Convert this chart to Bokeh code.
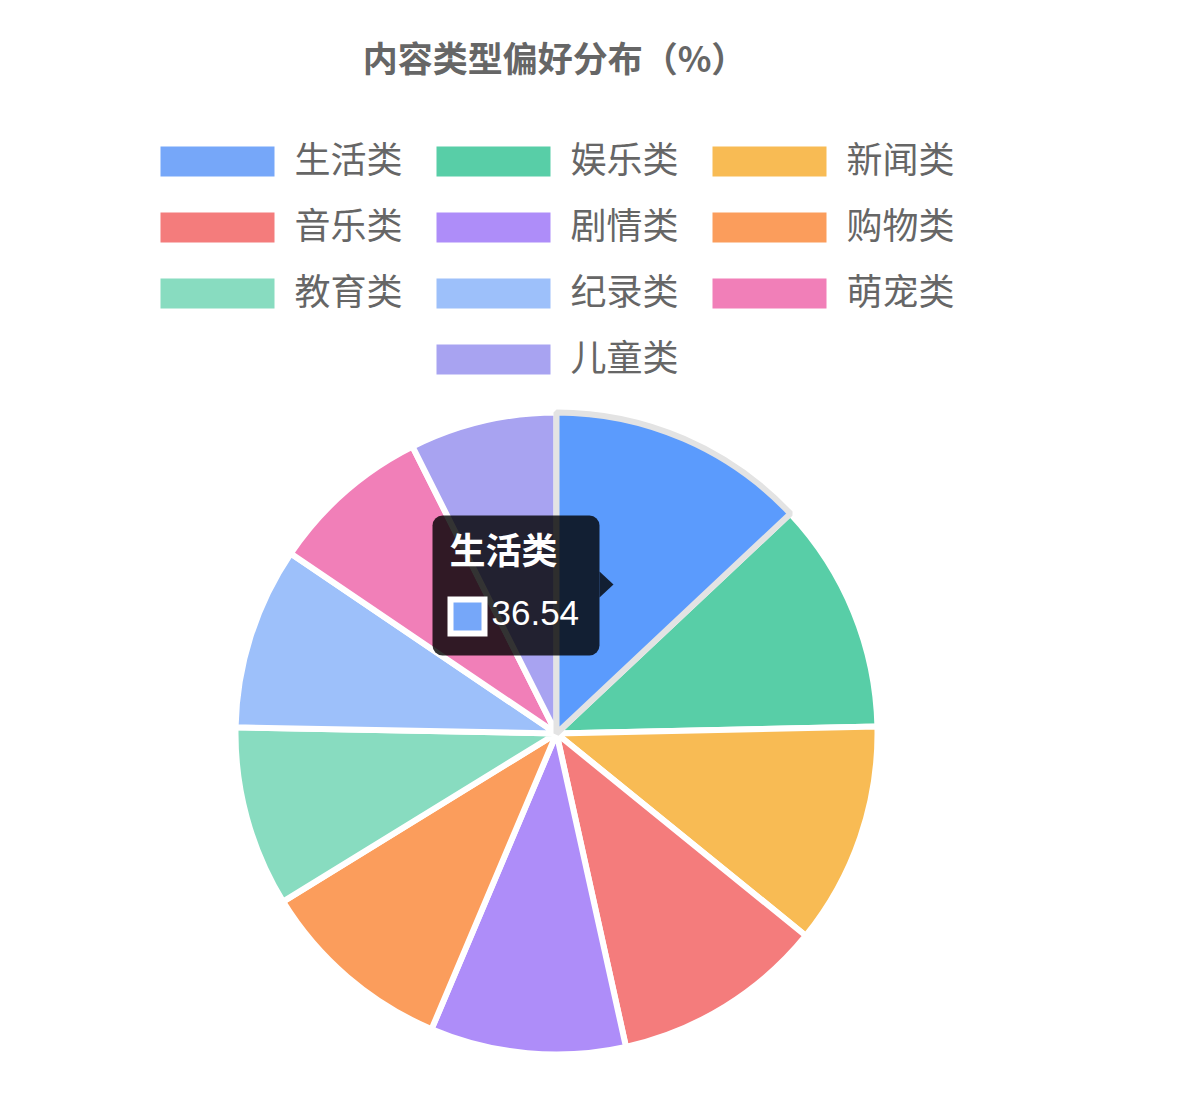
import numpy as np
from bokeh.plotting import figure
from bokeh.models import Range1d, BoxAnnotation
from bokeh.core.properties import value
from bokeh.embed import file_html
from bokeh.resources import INLINE

title_text = "内容类型偏好分布（%）"
categories = ["生活类", "娱乐类", "新闻类", "音乐类", "剧情类",
              "购物类", "教育类", "纪录类", "萌宠类", "儿童类"]
shares = [36.54, 32.80, 31.49, 30.04, 27.66, 27.74, 25.55, 25.78, 22.85, 20.82]
colors = ["#76a7f9", "#58cea7", "#f8bb54", "#f47c7c", "#ae8df9",
          "#fb9d5c", "#88dcc0", "#9dc0fa", "#f17fb8", "#a8a3f1"]
hover_color = "#5b9bfd"
active = 0  # slice shown with the tooltip

W, H = 1185, 1097
CJK = value("Noto Sans CJK SC")

# window px (from top-left) -> data coords
def X(xs):
    return np.asarray(xs, dtype=float)

def Y(ys):
    return H - np.asarray(ys, dtype=float)

p = figure(width=W, height=H, x_range=Range1d(0, W), y_range=Range1d(0, H),
           toolbar_location=None, output_backend="svg", min_border=0,
           x_axis_location=None, y_axis_location=None)
p.grid.visible = False
p.outline_line_color = None

# title
p.text(x=[X(554)], y=[Y(56)], text=[title_text], text_align="center",
       text_baseline="middle", text_font=CJK, text_font_size="35px",
       text_font_style="bold", text_color="#666666")

# legend, 3 per row, rows centred
per_row, step, box_w, box_h, gap, txt_w = 3, 276, 114, 30, 20, 106
legend_cx, row0, row_step = 557, 161, 66
lx, ly = [], []
for i in range(len(categories)):
    r, c = divmod(i, per_row)
    n = min(per_row, len(categories) - r * per_row)
    left = legend_cx - ((n - 1) * step + box_w + 22 + txt_w) / 2
    lx.append(left + c * step)
    ly.append(row0 + r * row_step)
lx = np.array(lx)
ly = np.array(ly)
p.quad(left=X(lx), right=X(lx + box_w), top=Y(ly - box_h / 2), bottom=Y(ly + box_h / 2),
       fill_color=colors, line_color=None)
p.text(x=X(lx + box_w + gap), y=Y(ly - 5), text=categories, text_align="left",
       text_baseline="middle", text_font=CJK, text_font_size="36px",
       text_color="#666666")

# pie
cx, cy, rad = float(X(556)), float(Y(733)), 321
vals = np.array(shares)
cum = np.concatenate([[0], np.cumsum(vals)]) / vals.sum()
starts = np.pi / 2 - 2 * np.pi * cum[:-1]
ends = np.pi / 2 - 2 * np.pi * cum[1:]
fills = list(colors)
fills[active] = hover_color
p.wedge(x=[cx] * len(vals), y=[cy] * len(vals), radius=rad, start_angle=starts,
        end_angle=ends, direction="clock", fill_color=fills,
        line_color="white", line_width=6)
p.wedge(x=[cx], y=[cy], radius=rad, start_angle=[starts[active]],
        end_angle=[ends[active]], direction="clock", fill_color=hover_color,
        line_color="#e3e3e3", line_width=6)

# tooltip
tip_l, tip_r, tip_t, tip_b = 432, 599, 515, 655
p.add_layout(BoxAnnotation(left=float(X(tip_l)), right=float(X(tip_r)),
                           top=float(Y(tip_t)), bottom=float(Y(tip_b)),
                           fill_color="black", fill_alpha=0.8, line_alpha=0,
                           border_radius=10))
p.patch(x=X([tip_r, tip_r + 14, tip_r]), y=Y([571, 584, 597]),
        fill_color="black", fill_alpha=0.8, line_color=None)
t1 = p.text(x=[X(449)], y=[Y(547)], text=[categories[active]], text_align="left",
            text_baseline="middle", text_font=CJK, text_font_size="36px",
            text_font_style="bold", text_color="white")
sq1 = p.quad(left=[X(447)], right=[X(487)], top=[Y(596)], bottom=[Y(636)],
             fill_color="white", line_color=None)
sq2 = p.quad(left=[X(453)], right=[X(481)], top=[Y(602)], bottom=[Y(630)],
             fill_color=colors[active], line_color=None)
t2 = p.text(x=[X(491)], y=[Y(612)], text=[f"{shares[active]:.2f}"], text_align="left",
            text_baseline="middle", text_font=value("Liberation Sans"),
            text_font_size="35px", text_color="white")
for r in (t1, sq1, sq2, t2):
    r.level = "overlay"

open("out.html", "w").write(file_html(p, INLINE))
